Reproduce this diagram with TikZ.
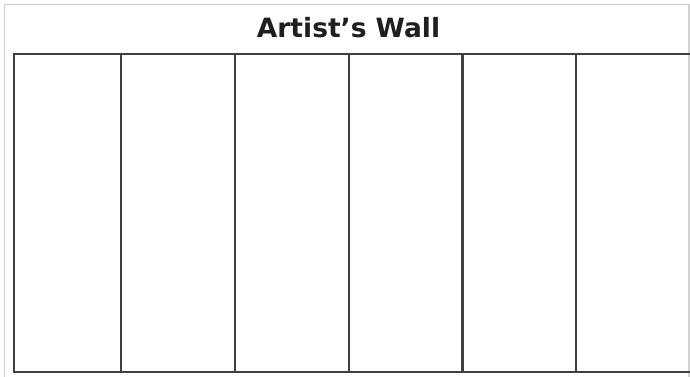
\documentclass[tikz,border=0pt]{standalone}
\usepackage{fontspec}
\setmainfont{DejaVu Sans}
\begin{document}
\begin{tikzpicture}[x=1pt,y=-1pt,
  frameline/.style={draw=black!18,line width=1.5pt},
  gridline/.style={draw=black!75,line width=2.8pt},
  titletext/.style={font=\fontsize{26.5}{30}\selectfont\bfseries,text=black!88,inner sep=0pt,anchor=base}]
\useasboundingbox (0,0) rectangle (690,377);
\clip (0,0) rectangle (690,377);
\fill[white] (0,0) rectangle (690,377);
% outer frame
\draw[frameline] (4.5,400) -- (4.5,4.5) -- (689,4.5) -- (689,400);
% title
\node[titletext] (title) at (348.5,38) {Artist’s Wall};
% grid
\coordinate (tl) at (14,54);
\coordinate (br) at (720,372);
\draw[gridline] (720,54) -- (14,54) -- (14,372) -- (720,372);
\foreach \x [count=\i] in {121,235,349,462.5,576}{
  \draw[gridline] (\x,54) -- (\x,372);
}
\end{tikzpicture}
\end{document}
